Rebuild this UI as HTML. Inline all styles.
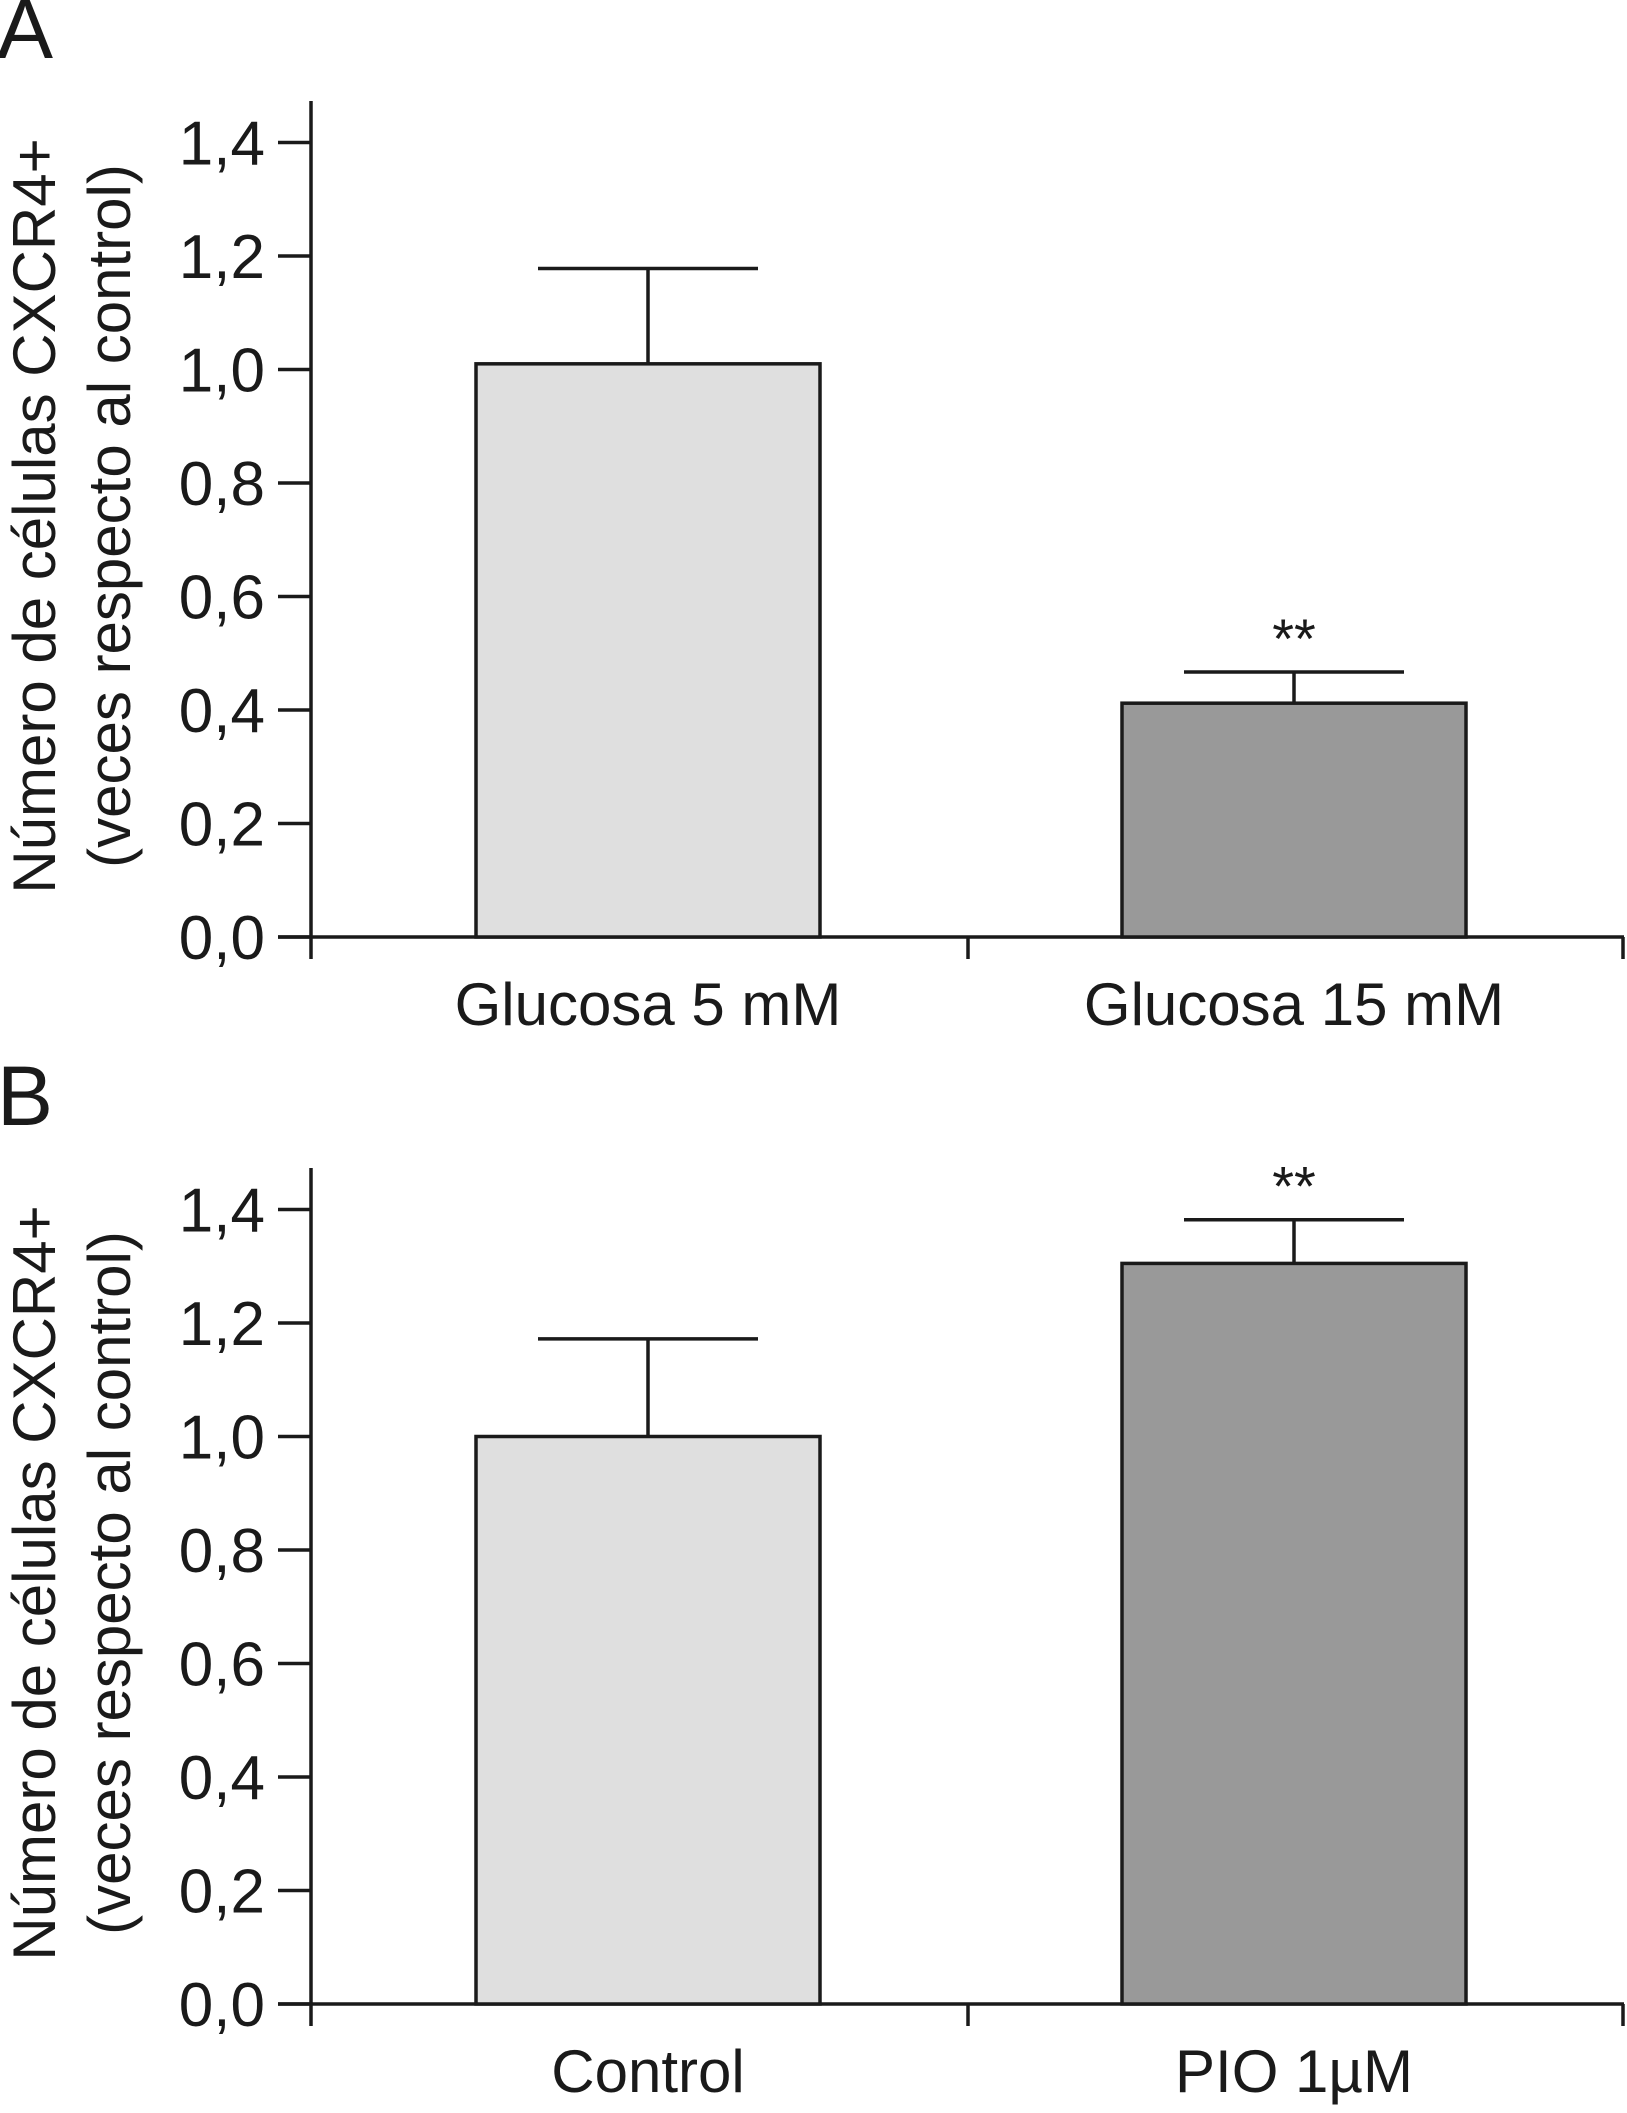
<!DOCTYPE html>
<html><head><meta charset="utf-8"><style>
html,body{margin:0;padding:0;background:#fff;}
svg{display:block;font-family:"Liberation Sans",Arial,sans-serif;}
</style></head><body>
<svg id="chart" width="1627" height="2113" viewBox="0 0 1627 2113" xmlns="http://www.w3.org/2000/svg"></svg>
<script>
const categoriesA = ["Glucosa 5 mM", "Glucosa 15 mM"];
const valuesA = [1.01, 0.412];
const errorsA = [0.168, 0.055];
const signifA = ["", "**"];
const categoriesB = ["Control", "PIO 1\u00b5M"];
const valuesB = [1.0, 1.305];
const errorsB = [0.172, 0.077];
const signifB = ["", "**"];
const tickValues = [0, 0.2, 0.4, 0.6, 0.8, 1.0, 1.2, 1.4];
const tickLabels = ["0,0", "0,2", "0,4", "0,6", "0,8", "1,0", "1,2", "1,4"];
const barColors = ["#dfdfdf", "#999999"];

const NS = "http://www.w3.org/2000/svg";
const svg = document.getElementById("chart");
function mk(tag, attrs, parent) {
  const e = document.createElementNS(NS, tag);
  for (const k in attrs) e.setAttribute(k, attrs[k]);
  (parent || svg).appendChild(e);
  return e;
}
function panel(letter, offY, cats, vals, errs, sig, pname) {
  const g = mk("g", {});
  
  
  const x0 = 311, xEnd = 1624, zeroY = 937 + offY, pxPer = 567.5;
  const y = v => zeroY - v * pxPer;
  const L = mk("text", {x: -3, y: 58 + offY, "font-size": 84, fill: "#1a1a1a"}, g);
  L.textContent = letter;
  
  
  const st = {stroke: "#1a1a1a", "stroke-width": 3.5, fill: "none"};
  const ya = mk("line", Object.assign({x1: x0, y1: 101 + offY, x2: x0, y2: zeroY + 22}, st), g);
  
  
  const xa = mk("line", Object.assign({x1: 278, y1: zeroY, x2: xEnd, y2: zeroY}, st), g);
  
  
  [968, xEnd - 1].forEach(tx => {
    const t = mk("line", Object.assign({x1: tx, y1: zeroY, x2: tx, y2: zeroY + 22}, st), g);
    
    
  });
  tickValues.forEach((v, i) => {
    const t = mk("line", Object.assign({x1: 278, y1: y(v), x2: x0, y2: y(v)}, st), g);
    
    
    const tl = mk("text", {x: 265, y: y(v) + 22, "font-size": 62, "text-anchor": "end", fill: "#1a1a1a"}, g);
    tl.textContent = tickLabels[i];
    
    
  });
  const t1 = mk("text", {x: 0, y: 0, "font-size": 60, "text-anchor": "middle", fill: "#1a1a1a", transform: `translate(55,${516 + offY}) rotate(-90)`}, g);
  t1.textContent = "Número de células CXCR4+";
  
  
  const t2 = mk("text", {x: 0, y: 0, "font-size": 60, "text-anchor": "middle", fill: "#1a1a1a", transform: `translate(130,${516 + offY}) rotate(-90)`}, g);
  t2.textContent = "(veces respecto al control)";
  
  
  const centers = [648, 1294], halfW = 172, capW = 110;
  cats.forEach((c, i) => {
    const cx = centers[i], top = y(vals[i]), et = y(vals[i] + errs[i]);
    const eb = mk("line", Object.assign({x1: cx, y1: top, x2: cx, y2: et}, st), g);
    
    
    const cap = mk("line", Object.assign({x1: cx - capW, y1: et, x2: cx + capW, y2: et}, st), g);
    
    
    const r = mk("rect", {x: cx - halfW, y: top, width: halfW * 2, height: zeroY - top, fill: barColors[i], stroke: "#1a1a1a", "stroke-width": 3.5}, g);
    
    
    const cl = mk("text", {x: cx, y: zeroY + 88, "font-size": 60, "text-anchor": "middle", fill: "#1a1a1a"}, g);
    cl.textContent = c;
    
    
    if (sig[i]) {
      const s = mk("text", {x: cx, y: et - 14, "font-size": 56, "text-anchor": "middle", fill: "#1a1a1a"}, g);
      s.textContent = sig[i];
      
      
    }
  });
}
panel("A", 0, categoriesA, valuesA, errorsA, signifA, "panel-a");
panel("B", 1067, categoriesB, valuesB, errorsB, signifB, "panel-b");
</script>
</body></html>
